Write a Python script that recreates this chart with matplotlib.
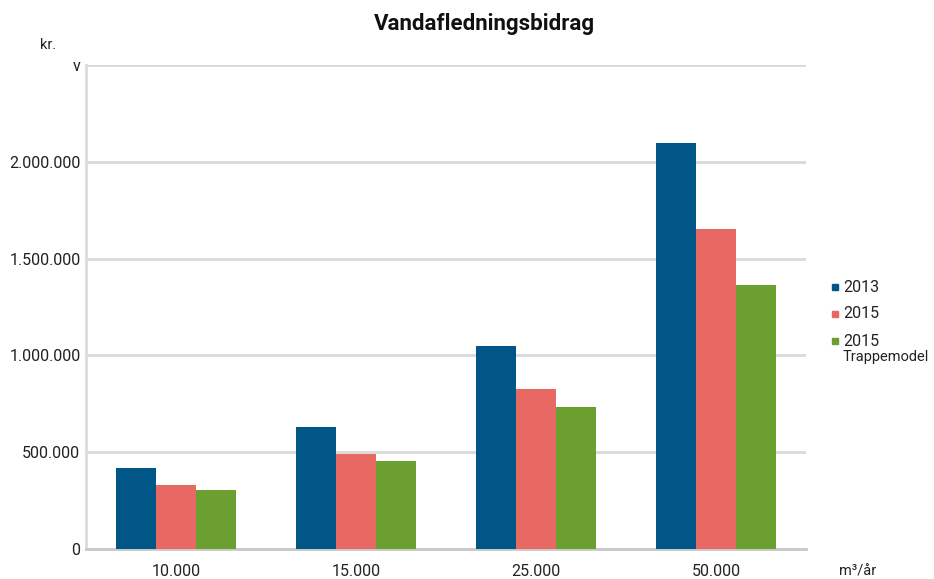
import numpy as np
import matplotlib
matplotlib.use("Agg")
import matplotlib.pyplot as plt
from matplotlib.patches import Rectangle

plt.rcParams['font.family'] = ['Roboto', 'DejaVu Sans']

# data
categories = ["10.000", "15.000", "25.000", "50.000"]
series = ["2013", "2015", "2015"]
v2013 = [416000, 629000, 1048000, 2096000]
v2015 = [328000, 493000, 825000, 1653000]
vtrappe = [303000, 454000, 734000, 1362000]
yticks = [0, 500000, 1000000, 1500000, 2000000, 2500000]
ytick_labels = ["0", "500.000", "1.000.000", "1.500.000", "2.000.000", "v"]
colors = ["#005687", "#E86963", "#6B9F2F"]

fig = plt.figure(figsize=(9.34, 5.79), dpi=100)
ax = fig.add_axes([86/934, 1-549/579, 720/934, (549-65)/579])

x = np.arange(len(categories))
w = 0.222
for i, vals in enumerate([v2013, v2015, vtrappe]):
    ax.bar(x + (i-1)*w, vals, width=w, color=colors[i], zorder=3)

ax.set_xlim(-0.5, 3.5)
ax.set_ylim(0, 2500000)
ax.set_yticks(yticks)
ax.set_yticklabels(ytick_labels, fontsize=11.5, color="#222222")
ax.set_xticks(x)
ax.set_xticklabels(categories, fontsize=11.5, color="#222222")
ax.tick_params(length=0)
ax.tick_params(axis='x', pad=11)
ax.tick_params(axis='y', pad=4)
ax.grid(axis='y', color="#d9d9d9", linewidth=2, zorder=0)
for s in ["top", "right"]:
    ax.spines[s].set_visible(False)
ax.spines["left"].set_color("#dcdcdc")
ax.spines["left"].set_linewidth(2)
ax.spines["bottom"].set_color("#c8c8c8")
ax.spines["bottom"].set_linewidth(2)

fig.text(484/934, 1-24/579, "Vandafledningsbidrag", fontsize=16, fontweight="bold",
         ha="center", va="center", color="#111111")
fig.text(48/934, 1-45/579, "kr.", fontsize=10.5, ha="center", va="center", color="#222222")
fig.text(858/934, 1-572/579, "m³/år", fontsize=10.5, ha="center", va="center", color="#222222")

# legend
leg_y = [287, 314, 341]
for i, lab in enumerate(series):
    fig.add_artist(Rectangle((832/934, 1-(leg_y[i]+3)/579), 6/934, 6/579,
                             color=colors[i], transform=fig.transFigure))
    fig.text(843/934, 1-leg_y[i]/579, lab, fontsize=11.5, ha="left", va="center", color="#222222")
fig.text(843/934, 1-357/579, "Trappemodel", fontsize=10.5, ha="left", va="center", color="#222222")

fig.savefig("out.png", dpi=100)
